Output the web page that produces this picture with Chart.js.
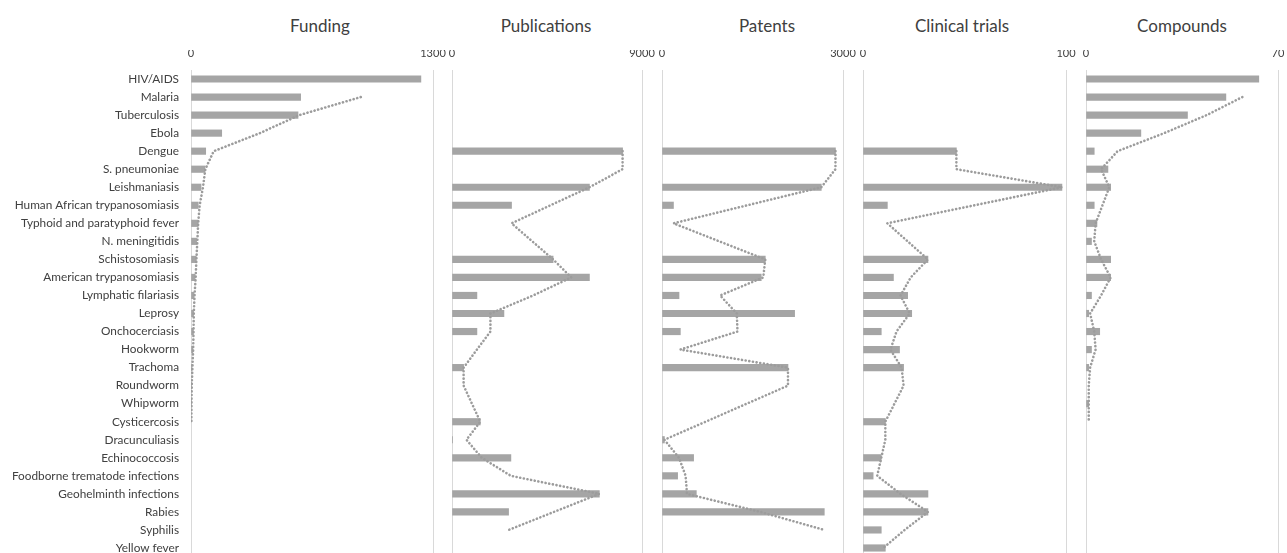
<!DOCTYPE html>
<html>
<head>
<meta charset="utf-8">
<script src="https://cdn.jsdelivr.net/npm/chart.js@4.4.1/dist/chart.umd.min.js"></script>
<style>
  html, body { margin: 0; padding: 0; background: #fff; }
  body { width: 1287px; height: 553px; overflow: hidden; position: relative; font-family: Lato, "Open Sans", sans-serif; }
  canvas { position: absolute; top: 0; }
  .title { position: absolute; top: 15px; transform: translateX(-50%); font-size: 17px; color: #404040; white-space: nowrap; }
</style>
</head>
<body>

<script>
// categories (top to bottom)
const categories = [
  'HIV/AIDS', 'Malaria', 'Tuberculosis', 'Ebola', 'Dengue', 'S. pneumoniae', 'Leishmaniasis',
  'Human African trypanosomiasis', 'Typhoid and paratyphoid fever', 'N. meningitidis',
  'Schistosomiasis', 'American trypanosomiasis', 'Lymphatic filariasis', 'Leprosy',
  'Onchocerciasis', 'Hookworm', 'Trachoma', 'Roundworm', 'Whipworm', 'Cysticercosis',
  'Dracunculiasis', 'Echinococcosis', 'Foodborne trematode infections', 'Geohelminth infections',
  'Rabies', 'Syphilis', 'Yellow fever'
];

// series values (null = no data)
const funding = [1235, 589, 575, 165, 79, 75, 54, 39, 38, 30, 28, 22, 16, 14, 13, 10, 5, 3, 2,
  null, null, null, null, null, null, null, null];
const publications = [null, null, null, null, 8080, null, 6510, 2820, null, null, 4790, 6510,
  1180, 2460, 1180, null, 550, null, null, 1340, 30, 2790, null, 6980, 2680, null, null];
const patents = [null, null, null, null, 2875, null, 2640, 190, null, null, 1712, 1645, 282,
  2198, 304, null, 2088, null, null, null, 40, 524, 259, 569, 2690, null, null];
const clinicalTrials = [null, null, null, null, 46, null, 98, 12, null, null, 32, 15, 22, 24,
  9, 18, 20, null, null, 11, null, 9, 5, 32, 32, 9, 11];
const compounds = [63, 51, 37, 20, 3, 8, 9, 3, 4, 2, 9, 9, 2, 1, 5, 2, 1, null, 1,
  null, null, null, null, null, null, null, null];

// panel titles and axis maxima (tick labels shown: 0 and max)
const titles = ['Funding', 'Publications', 'Patents', 'Clinical trials', 'Compounds'];
const axisMax = [1300, 9000, 3000, 100, 70];
const seriesList = [funding, publications, patents, clinicalTrials, compounds];

// 2-period moving average trendline, blanks ignored inside the window
function movingAverage(values) {
  return values.map((v, i) => {
    if (i === 0) return null;
    const win = [values[i - 1], v].filter(x => x !== null);
    return win.length ? win.reduce((a, b) => a + b, 0) / win.length : null;
  });
}

// plot area left/right in page pixels, and title centers
const plotLeft = [191, 452, 662, 863, 1086];
const plotRight = [433, 642, 843, 1066, 1278];
const titleX = [320, 546, 767, 962, 1182];
const PAD = 24;
const H = 560;

const barColor = '#a5a5a5';
const textColor = '#404040';

seriesList.forEach((values, i) => {
  const t = document.createElement('div');
  t.className = 'title';
  t.style.left = titleX[i] + 'px';
  t.textContent = titles[i];
  document.body.appendChild(t);

  const first = i === 0;
  const canvasLeft = first ? 0 : plotLeft[i] - PAD;
  const width = plotRight[i] + PAD - canvasLeft;
  const canvas = document.createElement('canvas');
  canvas.width = width;
  canvas.height = H;
  canvas.style.left = canvasLeft + 'px';
  canvas.style.width = width + 'px';
  canvas.style.height = H + 'px';
  document.body.appendChild(canvas);

  new Chart(canvas.getContext('2d'), {
    type: 'bar',
    data: {
      labels: categories,
      datasets: [
        {
          type: 'line',
          indexAxis: 'y',
          data: movingAverage(values),
          borderColor: '#9c9c9c',
          borderWidth: 2.6,
          borderDash: [0.1, 3.6],
          borderCapStyle: 'round',
          pointRadius: 0,
          fill: false,
          tension: 0,
          spanGaps: true,
          order: 0
        },
        {
          data: values,
          backgroundColor: barColor,
          barThickness: 6.5,
          order: 1
        }
      ]
    },
    options: {
      indexAxis: 'y',
      responsive: false,
      animation: false,
      layout: { padding: { top: 50, right: PAD, bottom: 3, left: first ? 0 : PAD } },
      plugins: { legend: { display: false }, tooltip: { enabled: false } },
      scales: {
        x: {
          position: 'top',
          min: 0,
          max: axisMax[i],
          ticks: {
            stepSize: axisMax[i],
            color: textColor,
            font: { family: 'Lato', size: 11 },
            padding: 10,
            maxRotation: 0,
            callback: v => String(v)
          },
          grid: { color: '#d9d9d9', lineWidth: 1, drawTicks: false },
          border: { display: false },
          afterFit: s => { s.height = 20; s.paddingLeft = Math.min(s.paddingLeft, PAD); s.paddingRight = Math.min(s.paddingRight, PAD); }
        },
        y: {
          display: first,
          grid: { display: false, drawTicks: false },
          border: { display: false },
          ticks: {
            color: textColor,
            font: { family: 'Lato', size: 11.8 },
            padding: 12,
            autoSkip: false
          },
          afterFit: s => {
            s.width = first ? plotLeft[0] : 0;
            s.paddingTop = 0;
            s.paddingBottom = 0;
          }
        }
      }
    }
  });
});
</script>
</body>
</html>
